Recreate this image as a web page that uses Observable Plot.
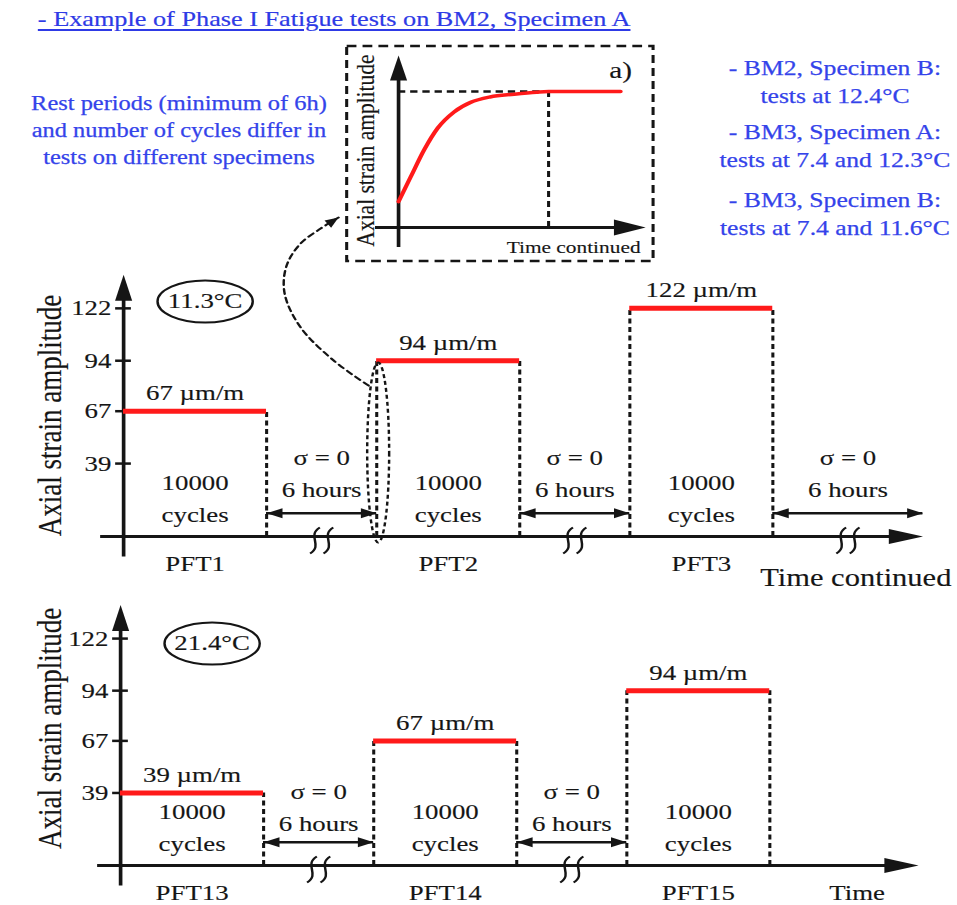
<!DOCTYPE html>
<html><head><meta charset="utf-8">
<script src="https://cdn.jsdelivr.net/npm/d3@7"></script>
<script src="https://cdn.jsdelivr.net/npm/@observablehq/plot@0.6"></script>
<style>
html,body{margin:0;padding:0;background:#fff;}
#wrap{position:relative;width:784px;height:905px;transform:scale(1.2207,1);transform-origin:0 0;font-family:"Liberation Serif","Times New Roman",serif;}
#wrap svg{position:absolute;background:transparent;overflow:visible;}
.note{position:absolute;color:#3443ea;text-align:center;white-space:nowrap;transform:translate(-50%,-50%);-webkit-text-stroke:0.25px #3443ea;}
.title{position:absolute;color:#2e3ae6;white-space:nowrap;text-decoration:underline;text-underline-offset:3px;-webkit-text-stroke:0.2px #2e3ae6;}
</style></head><body>
<div id="wrap"></div>
<script>
// ---------- data ----------
const topTests = ["PFT1", "PFT2", "PFT3"];
const topAmplitudes = [67, 94, 122];
const topTemperature = "11.3°C";
const bottomTests = ["PFT13", "PFT14", "PFT15"];
const bottomAmplitudes = [39, 67, 94];
const bottomTemperature = "21.4°C";
const yTicks = [39, 67, 94, 122];
const cyclesPerTest = 10000;
const restStress = "σ = 0";
const restDuration = "6 hours";
const amplitudeUnit = "µm/m";
const axisTitle = "Axial strain amplitude";
const insetTime = [0, 0.8, 1.7, 2.6, 3.7, 4.8, 6.1, 7.7, 9.2, 10, 14.8];
const insetAmplitude = [0.19, 0.37, 0.57, 0.73, 0.85, 0.92, 0.96, 0.98, 0.995, 1, 1];
const titleText = "- Example of Phase I Fatigue tests on BM2, Specimen A";
const leftNote = ["Rest periods (minimum of 6h)", "and number of cycles differ in", "tests on different specimens"];
const rightNotes = [["- BM2, Specimen B:", "tests at 12.4°C"], ["- BM3, Specimen A:", "tests at 7.4 and 12.3°C"], ["- BM3, Specimen B:", "tests at 7.4 and 11.6°C"]];

// ---------- layout ----------
const FONT = '"Liberation Serif","Times New Roman",serif';
const ink = "#151515";
const red = "#ff1a1a";
const UNIT = 117.15;           // px per schematic time unit (inner coords)
const TEST = 1, REST = 0.77;   // schematic durations
const wrap = document.getElementById("wrap");

function head(angle, L, W) {
  const a = angle * Math.PI / 180, c = Math.cos(a), s = Math.sin(a);
  const r = (x, y) => [x * c - y * s, x * s + y * c];
  return {draw(ctx) {
    const p1 = r(-L, -W / 2), p2 = r(-L, W / 2);
    ctx.moveTo(0, 0); ctx.lineTo(p1[0], p1[1]); ctx.lineTo(p2[0], p2[1]); ctx.closePath();
  }};
}
function ellipse(rx, ry) {
  const k = 0.5523;
  return {draw(ctx) {
    ctx.moveTo(rx, 0);
    ctx.bezierCurveTo(rx, ry * k, rx * k, ry, 0, ry);
    ctx.bezierCurveTo(-rx * k, ry, -rx, ry * k, -rx, 0);
    ctx.bezierCurveTo(-rx, -ry * k, -rx * k, -ry, 0, -ry);
    ctx.bezierCurveTo(rx * k, -ry, rx, -ry * k, rx, 0);
    ctx.closePath();
  }};
}
const squiggle = {draw(ctx) {
  for (const o of [-5.5, 5.5]) {
    ctx.moveTo(o + 4, -13);
    ctx.bezierCurveTo(o - 7, -5, o + 7, 5, o - 4, 13);
  }
}};

function schedule(names, amps, trailingEnd) {
  const tests = names.map((n, i) => ({name: n, amp: amps[i], start: i * (TEST + REST), end: i * (TEST + REST) + TEST}));
  const rests = [];
  for (let i = 0; i < tests.length - 1; i++) rests.push({from: tests[i].end, to: tests[i + 1].start});
  if (trailingEnd != null) rests.push({from: tests[tests.length - 1].end, to: trailingEnd});
  return {tests, rests};
}
const mid = d => (d.start + d.end) / 2;
const rmid = d => (d.from + d.to) / 2;
const T = {fontFamily: FONT, fill: ink, stroke: ink, strokeWidth: 0.15};

function panel(o) {
  const {tests, rests} = o.sched;
  const dashed = tests.flatMap(t => t.start > 0 ? [{x: t.start, amp: t.amp}, {x: t.end, amp: t.amp}] : [{x: t.end, amp: t.amp}]);
  const svg = Plot.plot({
    width: 784, height: o.height, margin: 0,
    style: {background: "transparent", overflow: "visible", fontFamily: FONT},
    x: {domain: [0, 5.6], range: [o.x0, o.x0 + 5.6 * UNIT], axis: null},
    y: {domain: [0, 140], range: o.yRange, axis: null},
    marks: [
      Plot.ruleY([0], {x1: -0.16, x2: o.xEnd - 0.1, stroke: ink, strokeWidth: 3}),
      Plot.dot([0], {x: o.xEnd, y: 0, symbol: head(0, 28, 15), fill: ink, stroke: "none"}),
      Plot.ruleX([0], {y1: -11, y2: 135, stroke: ink, strokeWidth: 3}),
      Plot.dot([0], {x: 0, y: 140, symbol: head(-90, 26, 14), fill: ink, stroke: "none"}),
      Plot.ruleY(yTicks, {y: d => d, x1: -0.055, x2: 0.055, stroke: ink, strokeWidth: 2.5}),
      Plot.text(yTicks, {x: 0, y: d => d, text: d => String(d), textAnchor: "end", dx: -10, fontSize: 22, ...T}),
      Plot.text([axisTitle], {x: o.titlePos[0], y: o.titlePos[1], rotate: -90, fontSize: 27, ...T}),
      Plot.ruleX(dashed, {x: "x", y1: 0, y2: "amp", stroke: ink, strokeWidth: 2.5, strokeDasharray: "5,3.5"}),
      Plot.ruleY(tests, {x1: "start", x2: "end", y: "amp", stroke: red, strokeWidth: 5}),
      Plot.text(tests, {x: mid, y: "amp", text: d => `${d.amp} ${amplitudeUnit}`, dy: -18, fontSize: 22, ...T}),
      Plot.text(tests, {x: mid, y: 0, text: () => `${cyclesPerTest}\ncycles`, dy: -40.5, lineHeight: 1.45, fontSize: 22, ...T}),
      Plot.text(tests, {x: mid, y: 0, text: "name", dy: 27, fontSize: 22, ...T}),
      Plot.ruleY(rests, {x1: "from", x2: "to", y: 12.5, stroke: ink, strokeWidth: 2.5}),
      Plot.dot(rests, {x: "from", y: 12.5, symbol: head(180, 13, 10), fill: ink, stroke: "none"}),
      Plot.dot(rests, {x: "to", y: 12.5, symbol: head(0, 13, 10), fill: ink, stroke: "none"}),
      Plot.text(rests, {x: rmid, y: 0, text: () => `${restStress}\n${restDuration}`, dy: o.restDy, lineHeight: 1.45, fontSize: 22, ...T}),
      Plot.dot(rests, {x: rmid, y: 0, dy: 4, symbol: squiggle, stroke: ink, strokeWidth: 2, fill: "none"}),
      Plot.dot([0], {x: o.tempPos[0], y: o.tempPos[1], symbol: ellipse(39, 21), stroke: ink, strokeWidth: 2, fill: "none"}),
      Plot.text([o.temp], {x: o.tempPos[0], y: o.tempPos[1], fontSize: 22, ...T}),
      ...o.extra
    ]
  });
  svg.style.left = "0px";
  svg.style.top = o.top + "px";
  wrap.appendChild(svg);
}

// top panel (with connector to inset)
const connector = [
  {t: 1.713, v: 80.7}, {t: 1.469, v: 94.1}, {t: 1.238, v: 111.8}, {t: 1.126, v: 129.9},
  {t: 1.140, v: 144.9}, {t: 1.238, v: 156.7}, {t: 1.378, v: 164.7}, {t: 1.503, v: 170.6}
];
const topSched = schedule(topTests, topAmplitudes, 5.59);
panel({
  sched: topSched, top: 0, height: 592, x0: 100.77, yRange: [536, 536 - 140 * 1.87],
  xEnd: 5.59, restDy: -66, temp: topTemperature, tempPos: [0.57, 125.7], titlePos: [-0.51, 64.7],
  extra: [
    Plot.text(["Time continued"], {x: 5.12, y: 0, dy: 41, fontSize: 25, ...T}),
    Plot.dot([0], {x: topSched.tests[1].start + 0.01, y: 44.9, symbol: ellipse(9, 90), stroke: ink, strokeWidth: 2, strokeDasharray: "4,3", fill: "none"}),
    Plot.line(connector, {x: "t", y: "v", curve: "catmull-rom", stroke: ink, strokeWidth: 2, strokeDasharray: "5,4"}),
    Plot.dot([connector[connector.length - 1]], {x: "t", y: "v", symbol: head(-37, 11, 9), fill: ink, stroke: "none"})
  ]
});

// bottom panel
panel({
  sched: schedule(bottomTests, bottomAmplitudes, null), top: 592, height: 313, x0: 98.3, yRange: [273, 273 - 140 * 1.86],
  xEnd: 5.58, restDy: -61, temp: bottomTemperature, tempPos: [0.64, 119.4], titlePos: [-0.49, 73.7],
  extra: [
    Plot.text(["Time"], {x: 5.15, y: 0, dy: 27, fontSize: 22, ...T})
  ]
});

// inset a)
const insetData = insetTime.map((t, i) => ({t, a: insetAmplitude[i]}));
const inset = Plot.plot({
  width: 254, height: 218, marginLeft: 1.5, marginRight: 1.5, marginTop: 1.5, marginBottom: 1.5,
  style: {background: "transparent", overflow: "visible", fontFamily: FONT},
  x: {domain: [0, 14.8], range: [44, 225.9], axis: null},
  y: {domain: [0, 1], range: [183, 47], axis: null},
  marks: [
    Plot.frame({stroke: ink, strokeWidth: 2.5, strokeDasharray: "8,5"}),
    Plot.ruleY([0], {x1: -1.53, x2: 15.5, stroke: ink, strokeWidth: 3}),
    Plot.dot([0], {x: 16.47, y: 0, symbol: head(0, 26, 16), fill: ink, stroke: "none"}),
    Plot.ruleX([0], {y1: -0.147, y2: 1.15, stroke: ink, strokeWidth: 3}),
    Plot.dot([0], {x: 0, y: 1.265, symbol: head(-90, 25, 14), fill: ink, stroke: "none"}),
    Plot.ruleY([1], {x1: 0, x2: 10, stroke: ink, strokeWidth: 2.5, strokeDasharray: "6,4"}),
    Plot.ruleX([10], {y1: 0, y2: 1, stroke: ink, strokeWidth: 2.5, strokeDasharray: "6,4"}),
    Plot.line(insetData, {x: "t", y: "a", stroke: red, strokeWidth: 3.5, curve: "monotone-x"}),
    Plot.text(["a)"], {x: 14.8, y: 1.154, fontSize: 24, ...T}),
    Plot.text(["Time continued"], {x: 11.67, y: -0.147, fontSize: 17.5, ...T}),
    Plot.text([axisTitle], {x: -2.2, y: 0.566, rotate: -90, fontSize: 21.5, ...T})
  ]
});
inset.style.left = "282px";
inset.style.top = "44px";
wrap.appendChild(inset);

// texts
const title = document.createElement("div");
title.className = "title";
title.textContent = titleText;
Object.assign(title.style, {left: "31px", top: "9px", fontSize: "21.5px", lineHeight: "21px"});
wrap.appendChild(title);

function note(lines, cx, cy, size, lh) {
  const d = document.createElement("div");
  d.className = "note";
  d.innerHTML = lines.map(l => `<div>${l}</div>`).join("");
  Object.assign(d.style, {left: cx + "px", top: cy + "px", fontSize: size + "px", lineHeight: lh + "px"});
  wrap.appendChild(d);
}
note(leftNote, 146.6, 130, 20, 27);
const rightCenters = [82, 145.5, 213.5];
rightNotes.forEach((lines, i) => note(lines, 684, rightCenters[i], 21, 28));
</script>
</body></html>
